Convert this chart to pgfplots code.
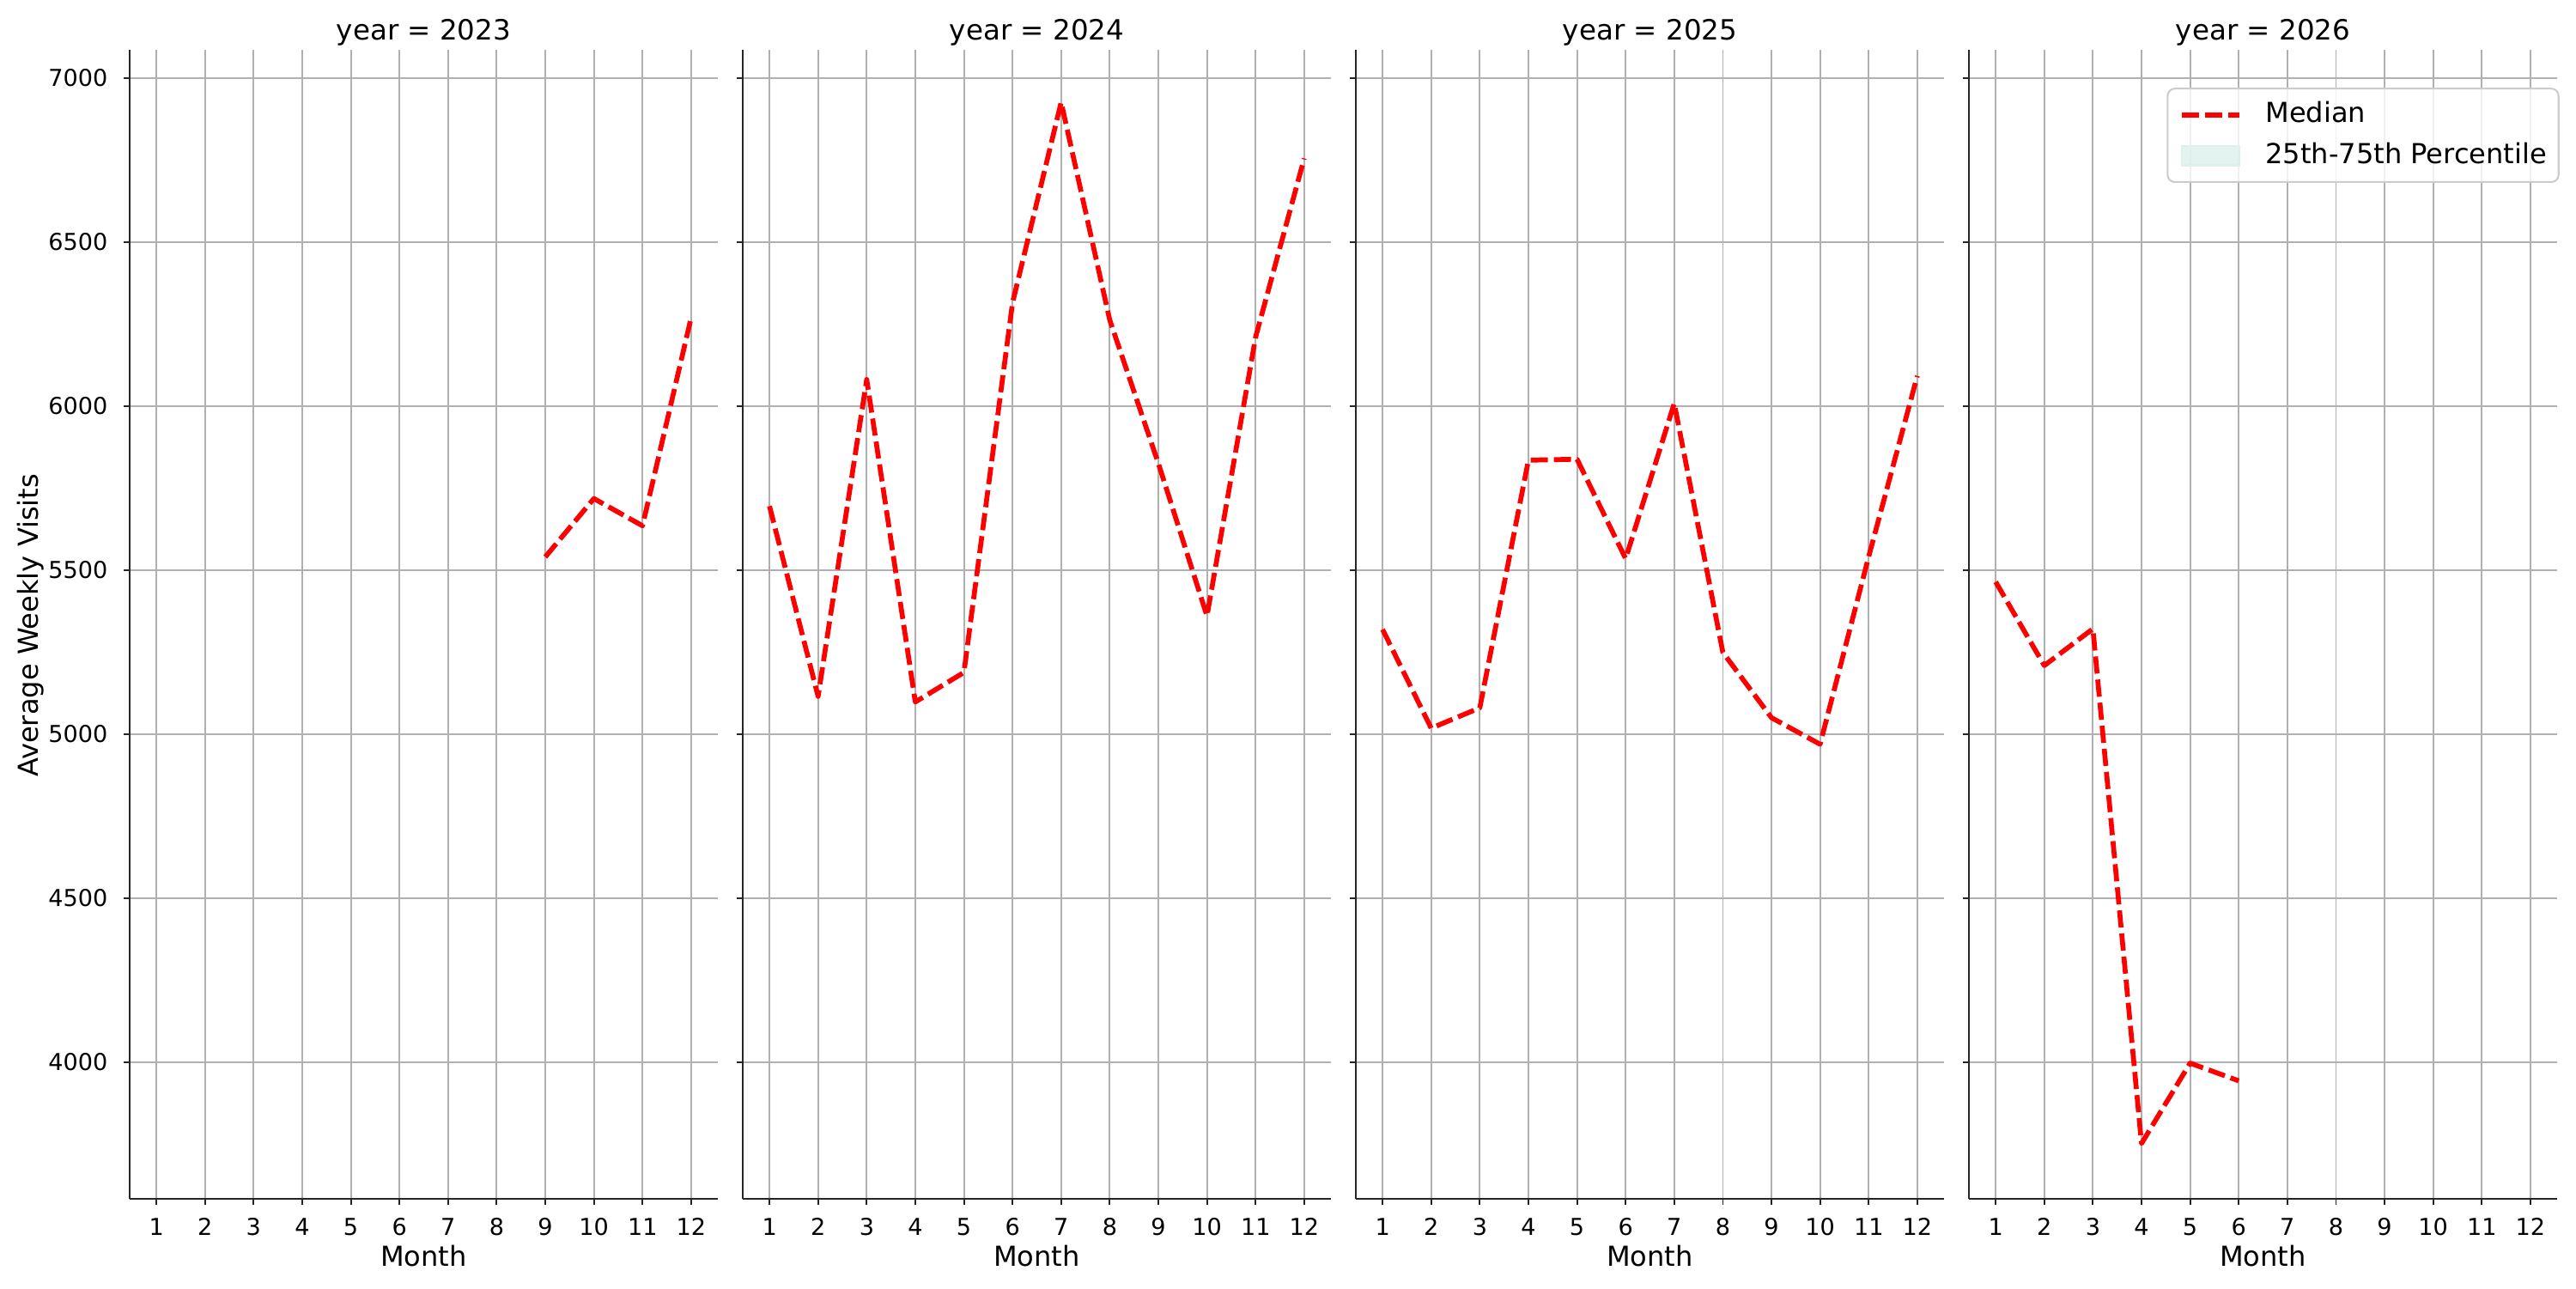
\documentclass[border=0pt]{standalone}
\usepackage{fontspec}
\setmainfont{DejaVu Sans}
\usepackage{pgfplots}
\pgfplotsset{compat=1.18}
\definecolor{gridgray}{HTML}{B0B0B0}
\definecolor{spine}{HTML}{262626}
\definecolor{mint}{HTML}{DDF0EB}

\pgfplotsset{
  panel/.style={
    scale only axis, width=164.4pt, height=321.05pt,
    xmin=0.45, xmax=12.55, ymin=3584, ymax=7086,
    axis lines=left, axis line style={-, spine, line width=0.45pt},
    xtick={1,...,12}, ytick={4000,4500,...,7000},
    grid=major, major grid style={gridgray, line width=0.45pt},
    tick align=outside, major tick length=1.7pt, tick style={spine, line width=0.45pt},
    /pgf/number format/assume math mode=true, /pgf/number format/1000 sep={},
    ticklabel style={font=\fontsize{6.5}{7.8}\selectfont, inner sep=0pt},
    xticklabel style={anchor=base, yshift=-8.5pt},
    yticklabel style={anchor=east, xshift=-4.25pt},
    title style={font=\fontsize{7.8}{9.4}\selectfont, at={(0.5,1)}, anchor=base, yshift=-3.3pt, inner sep=0pt},
    xlabel style={font=\fontsize{7.7}{9.2}\selectfont, at={(0.5,0)}, anchor=base, yshift=-18.9pt, inner sep=0pt},
    xlabel={Month},
  },
  median/.style={red, line width=1.37pt, dash pattern=on 4.8pt off 1.68pt, line cap=butt, line join=round},
}

\begin{document}
\begin{tikzpicture}
\useasboundingbox (0,0) rectangle (720pt,360pt);

\begin{axis}[panel, at={(36.24pt,25.03pt)}, anchor=south west, title={year = 2023}]
\addplot[median] coordinates {(9,5540) (10,5718) (11,5635) (12,6269)};
\end{axis}

\begin{axis}[panel, at={(207.6pt,25.03pt)}, anchor=south west, title={year = 2024}, yticklabels={}]
\addplot[median] coordinates {(1,5695) (2,5115) (3,6081) (4,5098) (5,5188) (6,6315) (7,6926) (8,6262) (9,5825) (10,5360) (11,6210) (12,6755)};
\end{axis}

\begin{axis}[panel, at={(378.96pt,25.03pt)}, anchor=south west, title={year = 2025}, yticklabels={}]
\addplot[median] coordinates {(1,5319) (2,5018) (3,5080) (4,5835) (5,5838) (6,5535) (7,6008) (8,5249) (9,5050) (10,4969) (11,5541) (12,6092)};
\end{axis}

\begin{axis}[panel, at={(550.32pt,25.03pt)}, anchor=south west, title={year = 2026}, yticklabels={},
  legend style={at={(1.004,0.967)}, anchor=north east, draw=black!20, line width=0.5pt, rounded corners=2pt,
    fill=white, fill opacity=0.8, text opacity=1, draw opacity=1,
    font=\fontsize{7.7}{9.2}\selectfont, inner xsep=3.3pt, inner ysep=3.7pt,
    column sep=6.7pt, row sep=4pt, nodes={inner sep=0pt}},
  legend cell align=left,
  legend image code/.code={\draw[#1, sharp corners] (0pt,0pt) -- (16pt,0pt);}]
\addplot[median] coordinates {(1,5464) (2,5209) (3,5321) (4,3752) (5,3997) (6,3943)};
\addlegendentry{\rule[-2pt]{0pt}{7.5pt}Median}
\addlegendimage{legend image code/.code={\fill[mint, sharp corners] (0pt,-2.7pt) rectangle (16pt,2.7pt);}}
\addlegendentry{\rule[-2pt]{0pt}{7.5pt}25th-75th Percentile}
\end{axis}

\node[rotate=90, anchor=base, font=\fontsize{7.7}{9.2}\selectfont, inner sep=0pt] at (10.56pt,185.2pt) {Average Weekly Visits};
\end{tikzpicture}
\end{document}
